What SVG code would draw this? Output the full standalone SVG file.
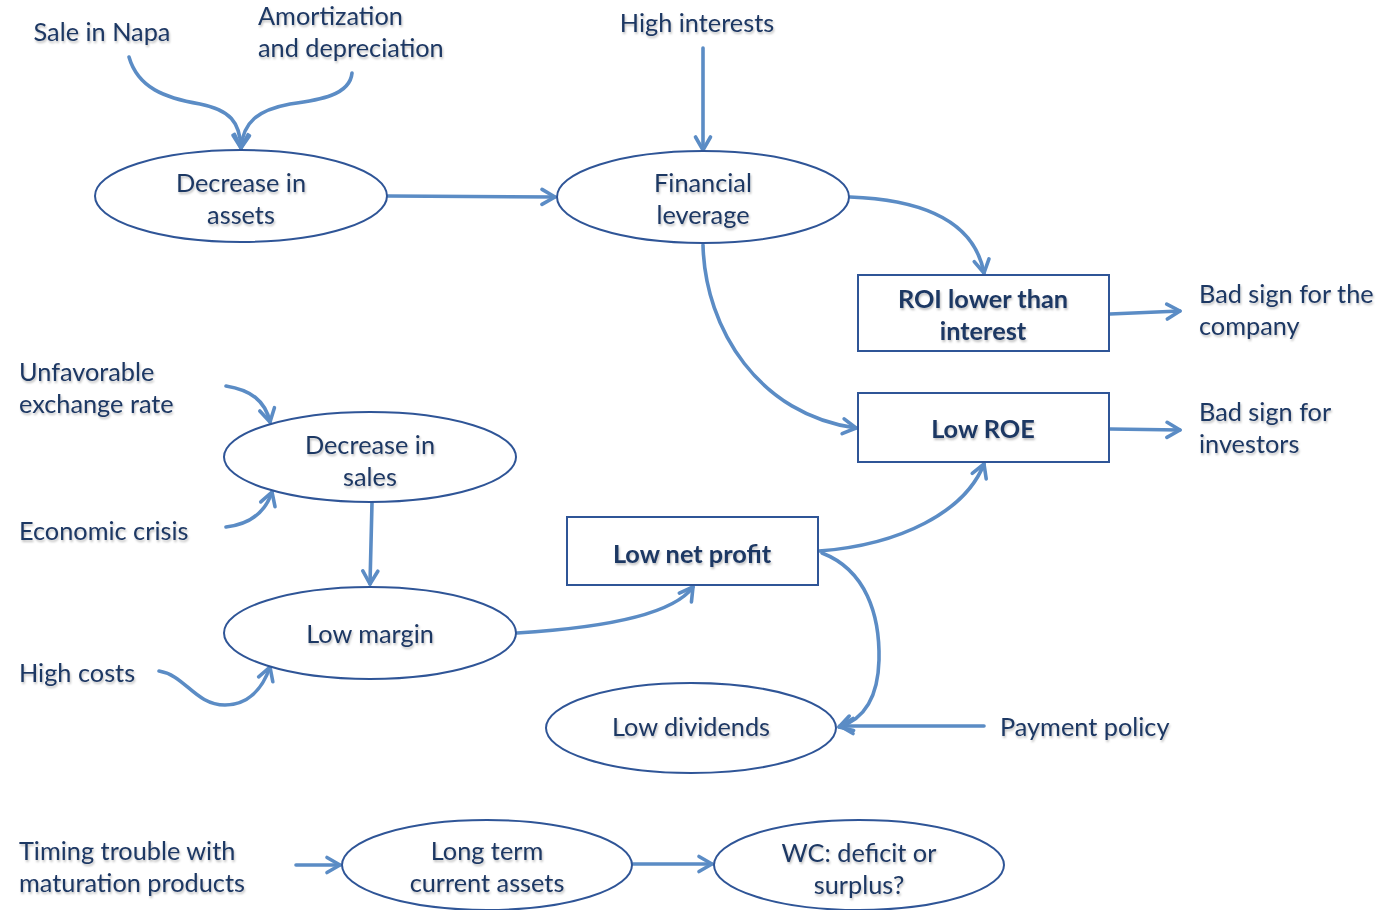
<svg xmlns="http://www.w3.org/2000/svg" width="1378" height="910" viewBox="0 0 1378 910">
<defs>
<marker id="arr" markerUnits="userSpaceOnUse" markerWidth="20" markerHeight="20" viewBox="0 0 20 20" refX="17" refY="10" orient="auto">
<path d="M4,2.5 L17,10 L4,17.5" fill="none" stroke="#5b8cc5" stroke-width="3.6" stroke-linecap="round" stroke-linejoin="round"/>
</marker>
<filter id="sh" x="-10%" y="-20%" width="120%" height="150%">
<feDropShadow dx="1" dy="2" stdDeviation="1.2" flood-color="#000" flood-opacity="0.25"/>
</filter>
</defs>
<style>
text{font-family:"Lato","Open Sans","Liberation Sans",sans-serif;font-size:25.3px;fill:#1f3864}
.c{text-anchor:middle;filter:url(#sh)}
.s{filter:url(#sh)}
.b{font-weight:bold}
.n{fill:#fff;stroke:#2f5597;stroke-width:2}
.e{fill:none;stroke:#5b8cc5;stroke-width:3.6;marker-end:url(#arr);stroke-linecap:round}
</style>
<rect width="1378" height="910" fill="#fff"/>
<g id="connectors">
<path class="e" d="M129,57 C138,88 165,98 200,104 C230,110 240,122 241,148"/>
<path class="e" d="M352,73 C350,95 320,100 290,104 C258,110 243,122 241,148"/>
<path class="e" d="M388,196 L555,197"/>
<path class="e" d="M703,48 L703,150"/>
<path class="e" d="M850,197 C930,200 975,225 984,273"/>
<path class="e" d="M703,245 C705,330 760,415 856,428"/>
<path class="e" d="M1110,314 L1180,311"/>
<path class="e" d="M1110,429 L1180,430"/>
<path class="e" d="M226,386 C250,390 265,400 270,422"/>
<path class="e" d="M226,527 C252,524 266,510 272,492"/>
<path class="e" d="M372,503 L370,584"/>
<path class="e" d="M159,671 C185,675 195,705 225,705 C247,705 262,690 270,667"/>
<path class="e" d="M517,633 C600,628 672,616 693,587"/>
<path class="e" d="M819,551 C900,545 965,512 984,464"/>
<path class="e" d="M822,553 C866,570 880,615 879,660 C878,700 862,720 839,727"/>
<path class="e" d="M984,726 L840,726"/>
<path class="e" d="M296,865 L340,865"/>
<path class="e" d="M633,864 L712,864"/>
</g>
<g id="n-assets"><ellipse class="n" cx="241" cy="196" rx="146" ry="46"/><text class="c" x="241" y="192">Decrease in</text><text class="c" x="241" y="224">assets</text></g>
<g id="n-leverage"><ellipse class="n" cx="703" cy="197" rx="146" ry="46"/><text class="c" x="703" y="192">Financial</text><text class="c" x="703" y="224">leverage</text></g>
<g id="n-roi"><rect class="n" x="858" y="275" width="251" height="76"/><text class="c b" x="983" y="308">ROI lower than</text><text class="c b" x="983" y="340">interest</text></g>
<g id="n-roe"><rect class="n" x="858" y="393" width="251" height="69"/><text class="c b" x="983" y="438">Low ROE</text></g>
<g id="n-sales"><ellipse class="n" cx="370" cy="457" rx="146" ry="45"/><text class="c" x="370" y="454">Decrease in</text><text class="c" x="370" y="486">sales</text></g>
<g id="n-margin"><ellipse class="n" cx="370" cy="633" rx="146" ry="46"/><text class="c" x="370" y="643">Low margin</text></g>
<g id="n-profit"><rect class="n" x="567" y="517" width="251" height="68"/><text class="c b" x="692" y="563">Low net profit</text></g>
<g id="n-dividends"><ellipse class="n" cx="691" cy="728" rx="145" ry="45"/><text class="c" x="691" y="736">Low dividends</text></g>
<g id="n-longterm"><ellipse class="n" cx="487" cy="865" rx="145" ry="45"/><text class="c" x="487" y="860">Long term</text><text class="c" x="487" y="892">current assets</text></g>
<g id="n-wc"><ellipse class="n" cx="859" cy="865" rx="145" ry="45"/><text class="c" x="859" y="862">WC: deficit or</text><text class="c" x="859" y="894">surplus?</text></g>
<g id="labels">
<text class="c" x="102" y="41">Sale in Napa</text>
<text class="s" x="258" y="25">Amortization</text>
<text class="s" x="258" y="57">and depreciation</text>
<text class="c" x="697" y="32">High interests</text>
<text class="s" x="1199" y="303">Bad sign for the</text>
<text class="s" x="1199" y="335">company</text>
<text class="s" x="1199" y="421">Bad sign for</text>
<text class="s" x="1199" y="453">investors</text>
<text class="s" x="19" y="381">Unfavorable</text>
<text class="s" x="19" y="413">exchange rate</text>
<text class="s" x="19" y="540">Economic crisis</text>
<text class="s" x="19" y="682">High costs</text>
<text class="s" x="1000" y="736">Payment policy</text>
<text class="s" x="19" y="860">Timing trouble with</text>
<text class="s" x="19" y="892">maturation products</text>
</g>
</svg>
